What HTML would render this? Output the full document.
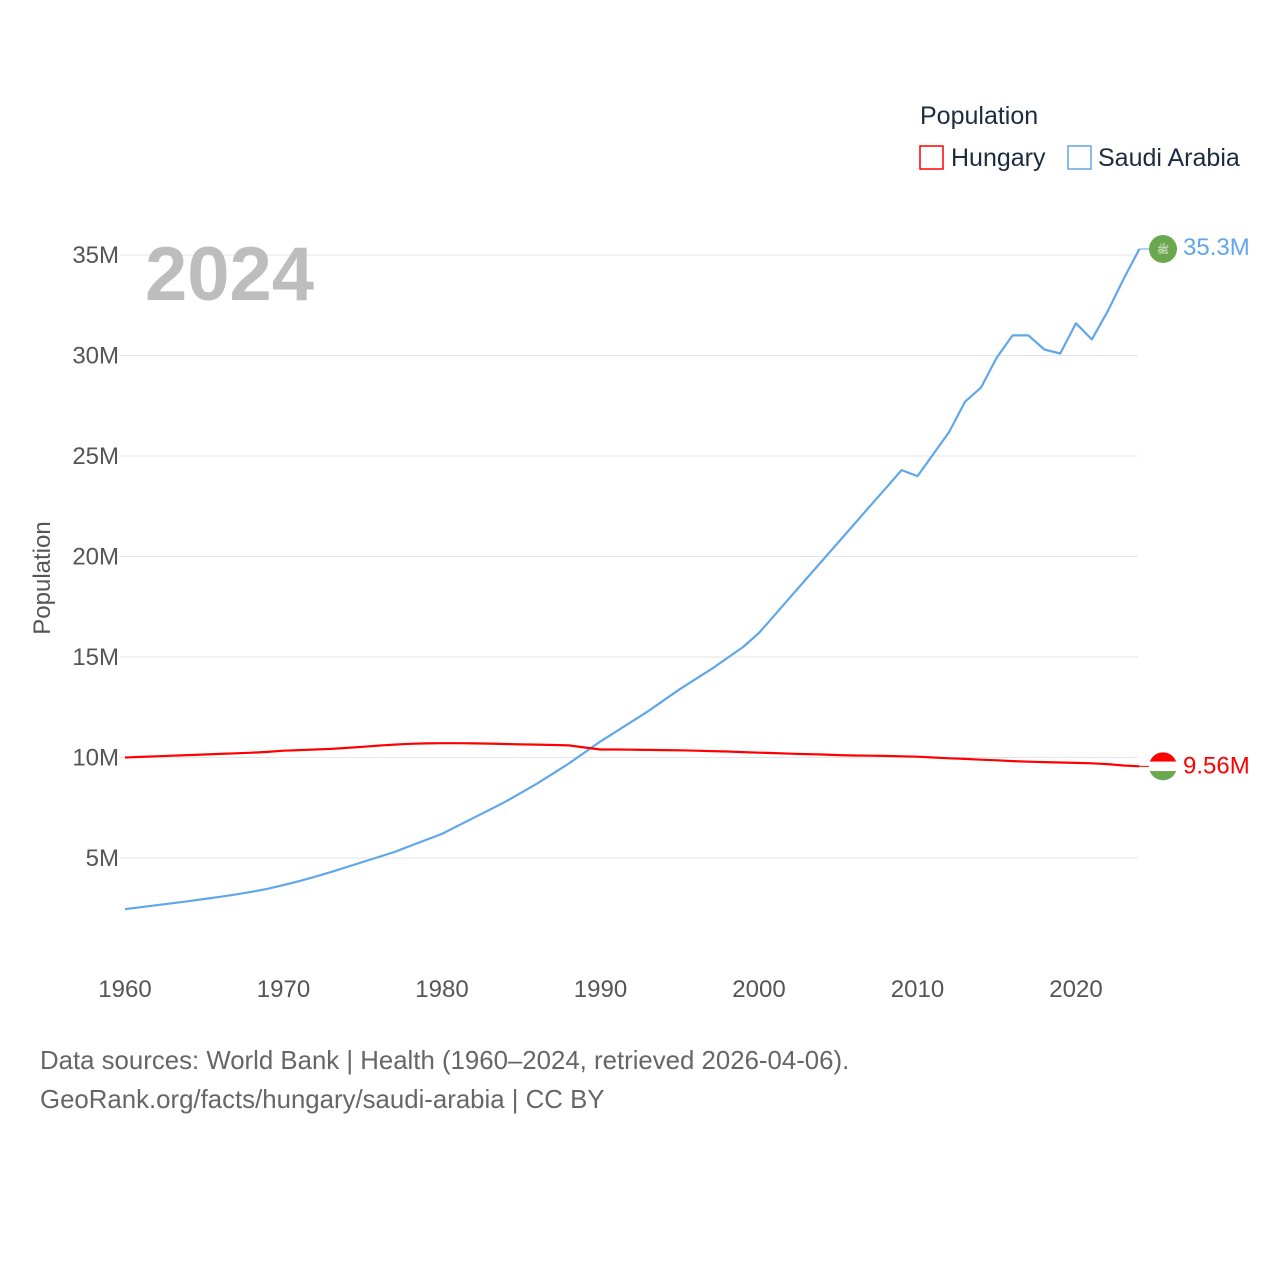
<!DOCTYPE html>
<html><head><meta charset="utf-8">
<style>
body{margin:0;background:#fff;}
svg{display:block;font-family:"Liberation Sans",sans-serif;}
</style></head>
<body>
<svg id="chart" width="1280" height="1280" viewBox="0 0 1280 1280">
<g id="grid"></g>
<g id="yticks"></g>
<g id="xticks"></g>
<text x="145" y="300" font-size="76" font-weight="bold" fill="#bdbdbd">2024</text>
<text transform="translate(50,578) rotate(-90)" text-anchor="middle" font-size="24" fill="#555">Population</text>
<g id="series"></g>
<g>
<text x="920" y="124" font-size="25" fill="#1d2b3f">Population</text>
<g>
<rect x="920" y="146" width="23" height="23" fill="none" stroke="#ff0000" stroke-width="1.5"/>
<text x="951" y="166" font-size="25" fill="#1d2b3f">Hungary</text></g>
<g>
<rect x="1068" y="146" width="23" height="23" fill="none" stroke="#5fa7ea" stroke-width="1.5"/>
<text x="1098" y="166" font-size="25" fill="#1d2b3f">Saudi Arabia</text></g>
</g>
<text x="40" y="1069" font-size="25.8" fill="#666">Data sources: World Bank | Health (1960–2024, retrieved 2026-04-06).</text>
<text x="40" y="1108" font-size="25.8" fill="#666">GeoRank.org/facts/hungary/saudi-arabia | CC BY</text>
</svg>
<script>
const years=[];for(let y=1960;y<=2024;y++)years.push(y);
const saudi=[2.46,2.55,2.65,2.75,2.85,2.96,3.07,3.19,3.32,3.47,3.65,3.85,4.07,4.3,4.55,4.8,5.05,5.3,5.6,5.9,6.2,6.6,7.0,7.4,7.8,8.25,8.7,9.2,9.7,10.25,10.8,11.3,11.8,12.3,12.85,13.4,13.9,14.4,14.95,15.5,16.2,17.1,18.0,18.9,19.8,20.7,21.6,22.5,23.4,24.3,24.0,25.1,26.2,27.7,28.4,29.9,31.0,31.0,30.3,30.1,31.6,30.8,32.2,33.8,35.3];
const hungary=[10.0,10.03,10.06,10.09,10.12,10.15,10.18,10.21,10.24,10.28,10.34,10.37,10.4,10.43,10.48,10.53,10.59,10.64,10.68,10.7,10.71,10.71,10.7,10.69,10.67,10.65,10.64,10.62,10.6,10.5,10.4,10.4,10.39,10.38,10.37,10.36,10.34,10.32,10.3,10.27,10.24,10.22,10.19,10.17,10.15,10.12,10.1,10.09,10.08,10.06,10.04,10.0,9.96,9.93,9.89,9.86,9.82,9.79,9.77,9.75,9.73,9.71,9.67,9.6,9.56];
const yTicks=[5,10,15,20,25,30,35];
const yTickLabels=["5M","10M","15M","20M","25M","30M","35M"];
const xTicks=[1960,1970,1980,1990,2000,2010,2020];
const NS="http://www.w3.org/2000/svg";
const X=y=>125+(y-1960)*15.85;
const Y=v=>958.5-v*20.1;
function mk(tag,attrs,parent,txt){const e=document.createElementNS(NS,tag);for(const k in attrs)e.setAttribute(k,attrs[k]);if(txt!==undefined)e.textContent=txt;parent.appendChild(e);return e;}
const grid=document.getElementById('grid'),yt=document.getElementById('yticks'),xt=document.getElementById('xticks'),ser=document.getElementById('series');
yTicks.forEach((v,i)=>{
 const l=mk('line',{x1:120,x2:1138,y1:Y(v),y2:Y(v),stroke:'#e5e5e5','stroke-width':1},grid);
 
 
 const t=mk('text',{x:119,y:Y(v)+8,'text-anchor':'end','font-size':24,fill:'#555'},yt,yTickLabels[i]);
 
 
});
xTicks.forEach(v=>{
 const t=mk('text',{x:X(v),y:997,'text-anchor':'middle','font-size':24,fill:'#555'},xt,String(v));
 
 
});
function line(data,color,name){
 const d=data.map((v,i)=>(i?'L':'M')+X(years[i]).toFixed(1)+','+Y(v).toFixed(1)).join('');
 const p=mk('path',{d:d,fill:'none',stroke:color,'stroke-width':2.2,'stroke-linejoin':'round'},ser);
 
 
 const lv=data[data.length-1],ly=Y(lv),lx=X(years[years.length-1]);
 mk('line',{x1:lx,x2:lx+12,y1:ly,y2:ly,stroke:color,'stroke-width':1},ser);
 return {ly:ly,lv:lv};
}
const s=line(saudi,'#5fa7ea','saudi-arabia');
const h=line(hungary,'#ff0000','hungary');
const sm=mk('circle',{cx:1163,cy:s.ly,r:14,fill:'#6aa84f'},ser);


mk('text',{x:1163,y:s.ly+4,'text-anchor':'middle','font-size':10,fill:'#fff'},ser,'ﷺ');
const t1=mk('text',{x:1183,y:s.ly+6,'font-size':24,fill:'#5fa7ea'},ser,s.lv.toFixed(1)+'M');


const g=mk('g',{},ser);


mk('clipPath',{id:'hc'},g);
mk('circle',{cx:1163,cy:h.ly,r:14},g.firstChild);
mk('rect',{x:1149,y:h.ly-14,width:28,height:9.3,fill:'#ff0000','clip-path':'url(#hc)'},g);
mk('rect',{x:1149,y:h.ly-4.7,width:28,height:9.4,fill:'#fff','clip-path':'url(#hc)'},g);
mk('rect',{x:1149,y:h.ly+4.7,width:28,height:9.3,fill:'#6aa84f','clip-path':'url(#hc)'},g);
const t2=mk('text',{x:1183,y:h.ly+7,'font-size':24,fill:'#ff0000'},ser,h.lv.toFixed(2)+'M');


</script>
</body></html>
